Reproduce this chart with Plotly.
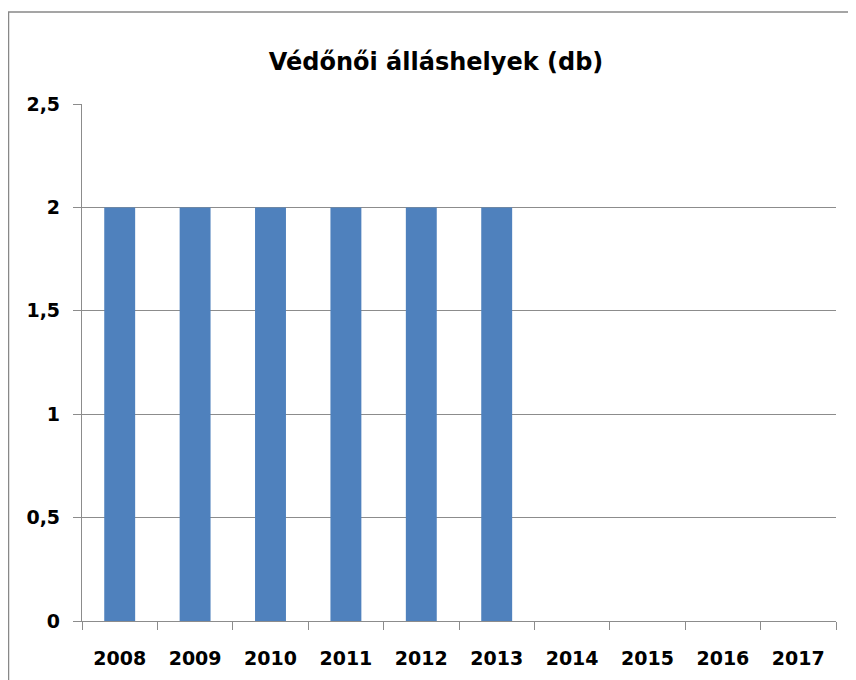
import plotly.graph_objects as go

years = ["2008", "2009", "2010", "2011", "2012", "2013", "2014", "2015", "2016", "2017"]
values = [2, 2, 2, 2, 2, 2, None, None, None, None]
title_text = "Védőnői álláshelyek (db)"
y_tickvals = [0, 0.5, 1, 1.5, 2, 2.5]
y_ticktext = ["0", "0,5", "1", "1,5", "2", "2,5"]

FONT = "DejaVu Sans, sans-serif"
OFF = 8  # page body margin offset
W, H = 856, 680
L, T = 82 - OFF, 104 - OFF
R = W - (836 - OFF)
B = H - (621 - OFF)
pw, ph = W - L - R, H - T - B

fig = go.Figure(go.Bar(x=years, y=values, marker=dict(color="#4F81BD", line=dict(width=0)), width=0.41))

fig.update_layout(
    width=W, height=H,
    margin=dict(l=L, r=R, t=T, b=B),
    paper_bgcolor="white", plot_bgcolor="white",
    showlegend=False,
    title=dict(text="<b>" + title_text + "</b>", x=(436 - OFF - L) / pw, xref="paper", xanchor="center",
               y=1 - (62 - OFF) / H, yref="container", yanchor="middle",
               font=dict(family=FONT, size=24, color="black")),
    font=dict(family=FONT, color="black"),
)
fig.update_yaxes(range=[0, 2.5], tickvals=y_tickvals, ticktext=["<b>" + t + "</b>" for t in y_ticktext],
                 showgrid=True, gridcolor="#8c8c8c", gridwidth=1.2,
                 showline=True, linecolor="#8c8c8c", linewidth=1.2,
                 ticks="outside", ticklen=8, tickcolor="#8c8c8c",
                 tickfont=dict(family=FONT, size=19, color="black"), ticklabelstandoff=9,
                 zeroline=False, fixedrange=True)
fig.update_xaxes(type="category", categoryorder="array", categoryarray=years,
                 tickvals=years, ticktext=["<b>" + y + "</b>" for y in years],
                 showline=True, linecolor="#8c8c8c", linewidth=1.2,
                 ticks="outside", ticklen=8, tickcolor="#8c8c8c", tickson="boundaries",
                 tickfont=dict(family=FONT, size=19, color="black"), ticklabelstandoff=20,
                 showgrid=False, fixedrange=True)

# chart border (outer frame)
fig.add_shape(type="rect", xref="paper", yref="paper",
              x0=(0.5 - L) / pw, x1=(W + 5 - L) / pw,
              y0=-(B + 5) / ph, y1=1 + (T - (12 - OFF)) / ph,
              line=dict(color="#888888", width=1.5), fillcolor="rgba(0,0,0,0)", layer="below")

fig.write_html("out.html")
